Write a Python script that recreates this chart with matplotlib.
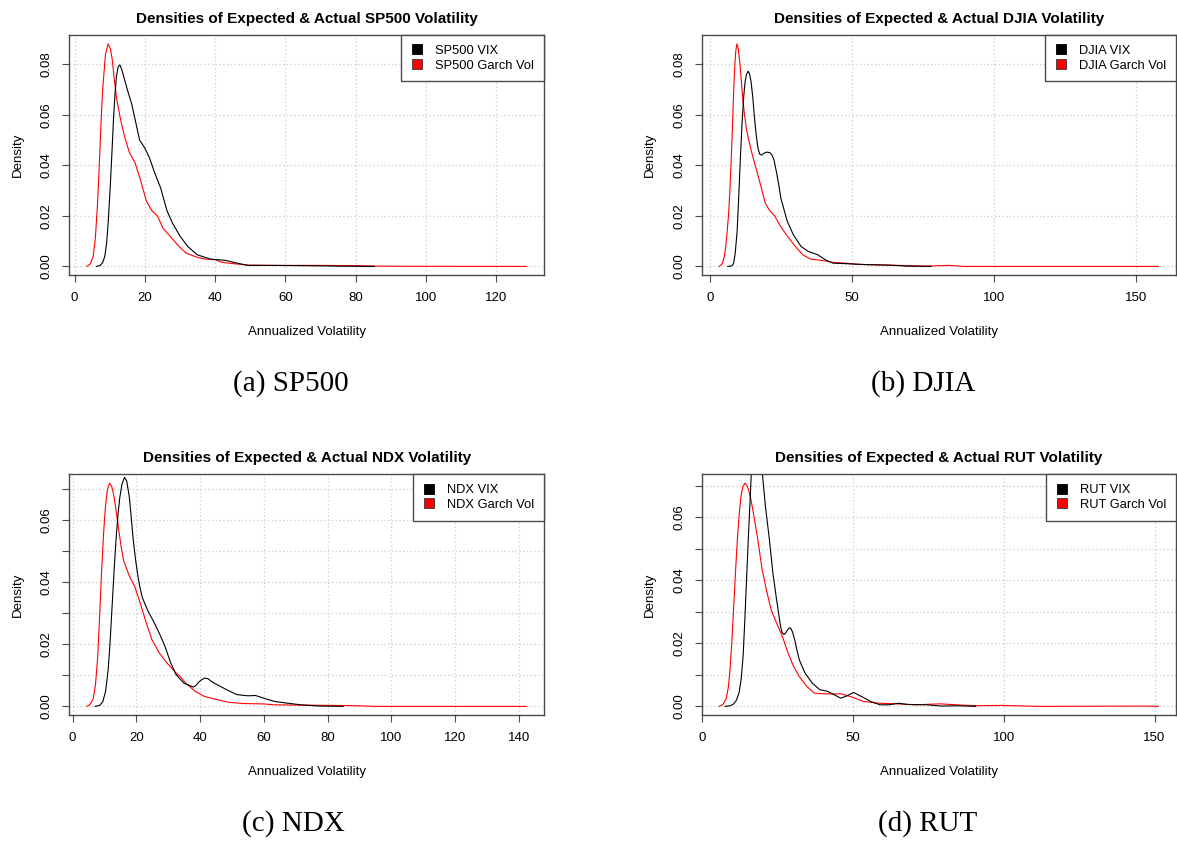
import matplotlib
matplotlib.use('Agg')
import matplotlib.pyplot as plt
from matplotlib.lines import Line2D

plt.rcParams['font.family'] = ['Liberation Sans', 'DejaVu Sans']

# density curves (x = annualized vol, y = density)
sp500_garch_x = [3.5, 4.5, 5.3, 5.9, 6.5, 7.0, 7.5, 8.0, 8.8, 9.55, 10.2, 10.7, 11.3, 12.0, 13.1, 14.3, 15.6,
                 17.2, 18.8, 20.4, 22.0, 23.6, 25.2, 27.4, 29.5, 31.7, 34.3, 36.5, 40.2, 41.9, 45.1, 49.4,
                 55.8, 69.8, 80.5, 85.9, 96.6, 128.6]
sp500_garch_y = [0.0, 0.001, 0.004, 0.011, 0.024, 0.039, 0.056, 0.070, 0.084, 0.088, 0.086, 0.082, 0.074,
                 0.066, 0.058, 0.051, 0.045, 0.041, 0.034, 0.026, 0.022, 0.020, 0.015, 0.0116, 0.0082, 0.0053,
                 0.0039, 0.003, 0.0026, 0.0016, 0.0011, 0.0005, 0.0004, 0.0004, 0.0003, 0.0001, 0.00005, 0.0]
sp500_vix_x = [6.2, 7.2, 8.0, 8.6, 9.1, 9.6, 10.2, 10.7, 11.1, 11.5, 11.9, 12.4, 12.9, 13.4, 14.0, 15.0,
               16.3, 17.4, 18.5, 19.9, 21.3, 22.8, 24.5, 26.3, 27.9, 30.1, 32.2, 34.9, 38.6, 42.9, 46.2, 49.4,
               55.8, 64.4, 75.1, 85.3]
sp500_vix_y = [0.0, 0.0003, 0.0015, 0.004, 0.009, 0.018, 0.033, 0.047, 0.059, 0.068, 0.075, 0.079, 0.0797,
               0.078, 0.075, 0.070, 0.064, 0.057, 0.050, 0.047, 0.043, 0.037, 0.031, 0.022, 0.017, 0.0118,
               0.0079, 0.0046, 0.0029, 0.0024, 0.0013, 0.0004, 0.0004, 0.0003, 0.0001, 0.0]

djia_garch_x = [3.2, 4.2, 5.0, 5.5, 6.0, 6.5, 6.9, 7.4, 7.8, 8.2, 8.6, 9.0, 9.4, 9.9, 10.4, 11.0, 11.5, 12.1,
                12.8, 14.4, 16.1, 17.8, 19.4, 21.0, 22.7, 24.7, 27.3, 30.0, 32.6, 35.3, 39.2, 43.2, 47.2, 52.4,
                63.0, 76.2, 84.1, 89.4, 157.9]
djia_garch_y = [0.0, 0.001, 0.004, 0.008, 0.014, 0.021, 0.029, 0.042, 0.054, 0.067, 0.078, 0.085, 0.088,
                0.086, 0.081, 0.073, 0.066, 0.060, 0.054, 0.046, 0.039, 0.032, 0.025, 0.022, 0.020, 0.016,
                0.0118, 0.0079, 0.0046, 0.0029, 0.0024, 0.0016, 0.0013, 0.0008, 0.0005, 0.0001, 0.0004, 0.0,
                0.0]
djia_vix_x = [6.2, 7.5, 8.2, 8.8, 9.5, 10.0, 10.6, 11.2, 11.8, 12.3, 12.8, 13.4, 13.9, 14.4, 15.0, 15.5, 16.2,
              16.8, 17.4, 18.1, 19.0, 20.0, 21.0, 21.8, 22.5, 23.4, 24.2, 24.9, 27.1, 29.3, 32.0, 34.6, 37.9,
              40.6, 43.2, 47.2, 55.1, 63.0, 69.6, 77.8]
djia_vix_y = [0.0, 0.0002, 0.001, 0.005, 0.014, 0.026, 0.042, 0.056, 0.067, 0.073, 0.076, 0.0772, 0.076, 0.073,
              0.067, 0.060, 0.052, 0.047, 0.0445, 0.044, 0.0448, 0.0452, 0.045, 0.044, 0.042, 0.037, 0.032,
              0.027, 0.018, 0.0125, 0.0079, 0.0059, 0.0046, 0.0026, 0.0013, 0.0011, 0.0007, 0.0005, 0.0001,
              0.0]

ndx_garch_x = [4.5, 5.5, 6.5, 7.2, 7.9, 8.5, 9.1, 9.7, 10.3, 10.9, 11.6, 12.3, 13.0, 13.8, 14.6, 15.3, 16.0,
               17.8, 19.5, 21.3, 23.1, 24.9, 27.2, 29.6, 32.5, 33.7, 35.5, 38.5, 41.4, 45.6, 49.1, 53.8, 59.8,
               63.3, 71.6, 83.4, 89.3, 95.3, 142.4]
ndx_garch_y = [0.0, 0.0006, 0.0025, 0.007, 0.016, 0.029, 0.043, 0.055, 0.064, 0.0695, 0.0718, 0.0708, 0.0676,
               0.062, 0.056, 0.051, 0.047, 0.042, 0.0386, 0.033, 0.027, 0.0215, 0.0172, 0.014, 0.0107, 0.0097,
               0.0075, 0.0048, 0.0032, 0.0021, 0.0013, 0.0009, 0.0008, 0.0005, 0.0004, 0.0003, 0.0002, 0.0,
               0.0]
ndx_vix_x = [7.1, 8.5, 9.5, 10.4, 11.2, 11.8, 12.4, 13.0, 13.6, 14.2, 14.8, 15.5, 16.3, 17.0, 17.8, 18.4,
             19.0, 19.8, 20.5, 21.2, 21.9, 23.7, 25.4, 27.2, 29.0, 30.8, 32.5, 34.9, 37.9, 38.8, 39.6, 40.5,
             41.5, 42.5, 43.5, 44.4, 47.9, 51.5, 55.0, 57.4, 59.8, 63.3, 66.9, 71.6, 77.5, 84.9]
ndx_vix_y = [0.0, 0.0003, 0.0015, 0.005, 0.012, 0.021, 0.032, 0.043, 0.053, 0.061, 0.067, 0.0715, 0.0737,
             0.0725, 0.0675, 0.061, 0.054, 0.047, 0.042, 0.038, 0.035, 0.0306, 0.0274, 0.0236, 0.0193, 0.014,
             0.0102, 0.0075, 0.0062, 0.0068, 0.0078, 0.0086, 0.0091, 0.0089, 0.0081, 0.0075, 0.0056, 0.0038,
             0.0034, 0.0035, 0.0027, 0.0016, 0.0011, 0.0005, 0.0001, 0.0]

rut_garch_x = [5.8, 7.0, 8.1, 8.8, 9.3, 10.0, 10.6, 11.2, 11.8, 12.4, 13.0, 13.6, 14.3, 14.9, 15.5, 16.2,
               16.8, 18.4, 19.9, 21.4, 23.0, 24.8, 26.7, 28.6, 30.4, 32.3, 34.8, 37.3, 40.4, 43.5, 46.0, 49.7,
               53.4, 58.4, 64.6, 70.8, 78.9, 84.5, 90.7, 99.4, 111.8, 146.6, 151.3]
rut_garch_y = [0.0, 0.0006, 0.0025, 0.006, 0.011, 0.021, 0.032, 0.043, 0.053, 0.061, 0.0666, 0.0697, 0.0708,
               0.0702, 0.0687, 0.066, 0.063, 0.054, 0.044, 0.037, 0.0306, 0.0264, 0.0222, 0.0169, 0.0127,
               0.0095, 0.0063, 0.0042, 0.004, 0.0039, 0.004, 0.003, 0.0016, 0.001, 0.0008, 0.0005, 0.0008,
               0.0005, 0.0002, 0.0003, 0.0, 0.0001, 0.0]
rut_vix_x = [7.7, 9.5, 10.6, 11.5, 12.4, 13.1, 13.7, 14.2, 14.7, 15.1, 15.5, 16.0, 16.4, 16.9, 17.6, 18.4,
             19.3, 20.1, 21.1, 22.4, 23.6, 24.8, 26.1, 26.6, 27.2, 27.8, 28.4, 29.0, 29.5, 30.1, 30.8, 31.5,
             32.3, 34.2, 36.6, 39.1, 41.6, 43.5, 46.0, 47.8, 50.3, 52.8, 55.9, 59.0, 62.1, 65.2, 68.3, 74.5,
             79.5, 84.5, 90.7]
rut_vix_y = [0.0, 0.0002, 0.0008, 0.002, 0.0045, 0.009, 0.016, 0.026, 0.037, 0.046, 0.055, 0.065, 0.0736,
             0.080, 0.085, 0.0855, 0.081, 0.0736, 0.0634, 0.053, 0.042, 0.0338, 0.0254, 0.0235, 0.0228, 0.0233,
             0.0242, 0.0249, 0.0248, 0.0235, 0.0211, 0.018, 0.0148, 0.0106, 0.0074, 0.0053, 0.0048, 0.0039,
             0.0026, 0.0032, 0.0044, 0.0032, 0.0016, 0.0005, 0.0005, 0.001, 0.0006, 0.0005, 0.0001, 0.0002,
             0.0]

names = ['SP500', 'DJIA', 'NDX', 'RUT']
captions = ['(a) SP500', '(b) DJIA', '(c) NDX', '(d) RUT']
xticks_list = [[0, 20, 40, 60, 80, 100, 120], [0, 50, 100, 150],
               [0, 20, 40, 60, 80, 100, 120, 140], [0, 50, 100, 150]]
yticks_list = [[0.0, 0.02, 0.04, 0.06, 0.08], [0.0, 0.02, 0.04, 0.06, 0.08],
               [0.0, 0.01, 0.02, 0.03, 0.04, 0.05, 0.06, 0.07], [0.0, 0.01, 0.02, 0.03, 0.04, 0.05, 0.06, 0.07]]
garch = [(sp500_garch_x, sp500_garch_y), (djia_garch_x, djia_garch_y),
         (ndx_garch_x, ndx_garch_y), (rut_garch_x, rut_garch_y)]
vix = [(sp500_vix_x, sp500_vix_y), (djia_vix_x, djia_vix_y),
       (ndx_vix_x, ndx_vix_y), (rut_vix_x, rut_vix_y)]

W, H = 1177, 843
fig = plt.figure(figsize=(W / 100, H / 100), dpi=100)

# axes boxes in pixels: left, top, right, bottom
boxes = [(69.3, 35, 544, 275.3), (701.7, 35, 1176, 275.3),
         (69.3, 474.3, 544, 715.3), (701.7, 474.3, 1176, 715.3)]
caption_pos = [(291, 384), (923, 384), (293, 824), (928, 824)]
frame_col = '#4a4a4a'

for i in range(4):
    l, t, r, b = boxes[i]
    ax = fig.add_axes([l / W, 1 - b / H, (r - l) / W, (b - t) / H])
    gx, gy = garch[i]
    vx, vy = vix[i]

    # R style limits: range of the first density, padded 4%
    xpad = 0.04 * (max(gx) - min(gx))
    ypad = 0.04 * max(gy)
    ax.set_xlim(min(gx) - xpad, max(gx) + xpad)
    ax.set_ylim(-ypad, max(gy) + ypad)

    ax.set_xticks(xticks_list[i])
    ax.set_yticks(yticks_list[i])
    ylabels = ['%.2f' % v if round(v * 100) % 2 == 0 else '' for v in yticks_list[i]]
    ax.set_yticklabels(ylabels, rotation=90, va='center')
    ax.grid(True, color='#cccccc', linestyle=(0, (1, 2)), linewidth=0.9)
    ax.set_axisbelow(True)

    ax.plot(gx, gy, color='red', linewidth=0.8)
    ax.plot(vx, vy, color='black', linewidth=0.8)

    for s in ax.spines.values():
        s.set_color(frame_col)
        s.set_linewidth(1.0)
    ax.tick_params(direction='out', length=5, width=0.8, color=frame_col, labelsize=9.5, pad=7)

    ax.set_title('Densities of Expected & Actual %s Volatility' % names[i],
                 fontsize=11, fontweight='bold', pad=9)
    ax.set_xlabel('Annualized Volatility', fontsize=9.5, labelpad=16)
    ax.set_ylabel('Density', fontsize=9.5, labelpad=12)

    handles = [Line2D([], [], linestyle='none', marker='s', markersize=6.5, markerfacecolor='black',
                      markeredgecolor='black', markeredgewidth=0.6),
               Line2D([], [], linestyle='none', marker='s', markersize=6.5, markerfacecolor='red',
                      markeredgecolor='#333333', markeredgewidth=0.6)]
    leg = ax.legend(handles, ['%s VIX' % names[i], '%s Garch Vol' % names[i]], loc='upper right',
                    fontsize=9.3, frameon=True, fancybox=False, framealpha=1, borderaxespad=0,
                    handlelength=1.0, handletextpad=0.9, labelspacing=0.22, borderpad=0.75)
    leg.get_frame().set_edgecolor(frame_col)
    leg.get_frame().set_linewidth(1.0)

    cx, cy = caption_pos[i]
    fig.text(cx / W, 1 - cy / H, captions[i], ha='center', va='center',
             fontsize=21, family=['Liberation Serif', 'DejaVu Serif'])

plt.savefig('out.png', dpi=100)
